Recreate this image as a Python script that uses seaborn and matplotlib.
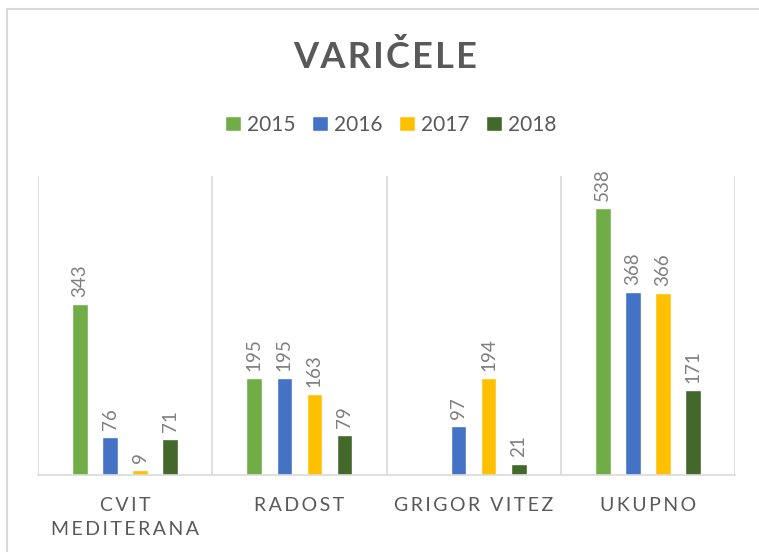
import numpy as np
import pandas as pd
import matplotlib
matplotlib.use("Agg")
import matplotlib.pyplot as plt
import matplotlib.patches as mpatches
import seaborn as sns

categories = ["CVIT MEDITERANA", "RADOST", "GRIGOR VITEZ", "UKUPNO"]
tick_labels = ["CVIT\nMEDITERANA", "RADOST", "GRIGOR VITEZ", "UKUPNO"]
years = ["2015", "2016", "2017", "2018"]
v2015 = [343, 195, np.nan, 538]
v2016 = [76, 195, 97, 368]
v2017 = [9, 163, 194, 366]
v2018 = [71, 79, 21, 171]
colors = ["#70AD47", "#4472C4", "#FFC000", "#43682B"]

rows = []
for y, vals in zip(years, [v2015, v2016, v2017, v2018]):
    for c, v in zip(categories, vals):
        rows.append({"category": c, "year": y, "value": v})
df = pd.DataFrame(rows)

sns.set_theme(style="white")
plt.rcParams["font.family"] = ["Lato", "DejaVu Sans"]

fig = plt.figure(figsize=(7.59, 5.52), dpi=100)
ax = fig.add_axes([38/759, 1-474.5/552, (735-38)/759, (474.5-176)/552])

sns.barplot(data=df, x="category", y="value", hue="year", hue_order=years,
            order=categories, palette=colors, width=0.69, gap=0.48,
            ax=ax, legend=True, saturation=1)

ax.set_xlim(-0.5, 3.5)
ax.set_ylim(0, 602)
for xv in [-0.5, 0.5, 1.5, 2.5, 3.5]:
    ax.axvline(xv, color="#D9D9D9", lw=1.2, zorder=0)
for s in ["top", "left", "right"]:
    ax.spines[s].set_visible(False)
ax.spines["bottom"].set_color("#D9D9D9")
ax.spines["bottom"].set_linewidth(1.2)
ax.set_yticks([])
ax.set_xlabel("")
ax.set_ylabel("")

def spaced(s, sep="\u2009"):
    return "\n".join(sep.join(list(line)) for line in s.split("\n"))

ax.set_xticks(range(len(categories)))
ax.set_xticklabels([spaced(t) for t in tick_labels], fontsize=14, color="#595959",
                   va="top", linespacing=1.55)
ax.tick_params(axis="x", length=0, pad=16)

for cont in ax.containers:
    ax.bar_label(cont, fmt="{:.0f}", rotation=90, padding=5, fontsize=13.5,
                 color="#7F7F7F")

leg = ax.get_legend()
handles, labels = ax.get_legend_handles_labels()
leg.remove()
fig.legend(handles, labels, loc="center", bbox_to_anchor=(391/759, 1-125/552),
           ncol=4, frameon=False, fontsize=15, handlelength=0.75, handleheight=0.75,
           handletextpad=0.3, columnspacing=0.8, labelcolor="#595959")

fig.text(385/759, 1-57/552, spaced("VARIČELE", "\u200a"), ha="center", va="center",
         fontsize=26, fontweight="bold", color="#595959")

border = mpatches.Rectangle((7/759, -0.1), 1.2, 1-9/552+0.1, transform=fig.transFigure,
                            fill=False, edgecolor="#D9D9D9", lw=1.5, clip_on=False)
fig.patches.append(border)

fig.savefig("out.png", dpi=100)
